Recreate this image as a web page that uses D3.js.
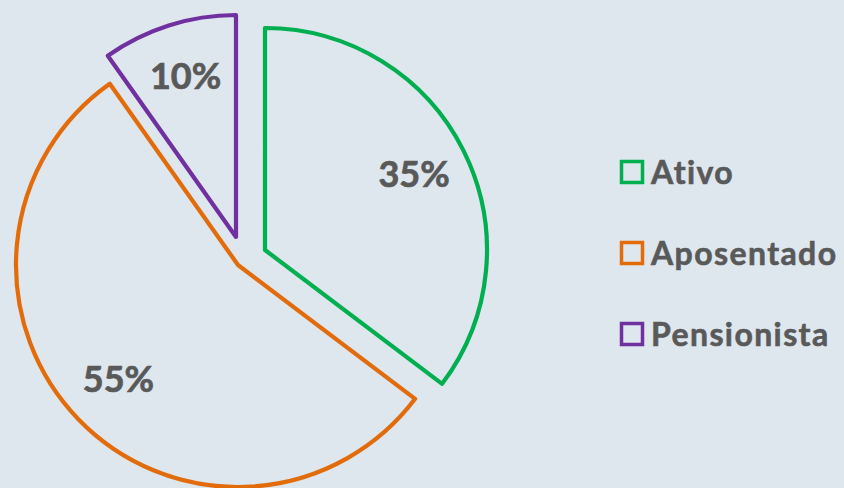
<!DOCTYPE html>
<html><head><meta charset="utf-8">
<script src="https://cdn.jsdelivr.net/npm/d3@7"></script>
<style>
html,body{margin:0;padding:0;background:#dee6ee;}
svg{display:block;}
</style></head>
<body>
<svg id="chart" width="844" height="488"></svg>
<script>
const categories = ["Ativo", "Aposentado", "Pensionista"];
const values = [35.3, 54.9, 9.8];
const labels = ["35%", "55%", "10%"];
const colors = ["#00b050", "#e36c0a", "#7030a0"];
// per-slice explode offsets (layout)
const offsets = [[25, -12], [-2, 3], [-4, -25]];

const svg = d3.select("#chart");
const W = 844, H = 488;
svg.append("rect").attr("width", W).attr("height", H).attr("fill", "#dee6ee");

const cx = 240, cy = 262, R = 222;
const pie = d3.pie().sort(null).value(d => d.v);
const data = pie(categories.map((c, i) => ({c, v: values[i], i})));
const arc = d3.arc().innerRadius(0).outerRadius(R);
const labelArc = d3.arc().innerRadius(R * 0.75).outerRadius(R * 0.75);

const g = svg.append("g").attr("transform", `translate(${cx},${cy})`);
const slices = g.selectAll("g.slice").data(data).join("g")
  .attr("class", "slice")
  .attr("transform", d => `translate(${offsets[d.data.i][0]},${offsets[d.data.i][1]})`);
slices.append("path")
  .attr("d", arc)
  .attr("fill", "none")
  .attr("stroke", d => colors[d.data.i])
  .attr("stroke-width", 4.2)
  .attr("stroke-linejoin", "round");
slices.append("text")
  .attr("transform", d => `translate(${labelArc.centroid(d)})`)
  .attr("text-anchor", "middle")
  .attr("dy", "0.3em")
  .attr("font-family", "Lato, 'Open Sans', sans-serif")
  .attr("font-weight", "bold")
  .attr("font-size", 36)
  .attr("fill", "#595959")
  .attr("stroke", "#595959")
  .attr("stroke-width", 0.7)
  .text(d => labels[d.data.i]);

// legend
const legendY = d3.scalePoint().domain(categories).range([172, 334]);
const lg = svg.append("g");
const items = lg.selectAll("g").data(categories).join("g")
  .attr("transform", d => `translate(620,${legendY(d)})`);
items.append("rect")
  .attr("x", 1.5).attr("y", -10.5).attr("width", 21).attr("height", 21)
  .attr("fill", "none")
  .attr("stroke", (d, i) => colors[i])
  .attr("stroke-width", 3.5);
items.append("text")
  .attr("x", 31).attr("dy", "0.36em")
  .attr("font-family", "Lato, 'Open Sans', sans-serif")
  .attr("font-weight", "bold")
  .attr("font-size", 32)
  .attr("letter-spacing", 1.4)
  .attr("fill", "#595959")
  .attr("stroke", "#595959")
  .attr("stroke-width", 0.6)
  .text(d => d);
</script>
</body></html>
